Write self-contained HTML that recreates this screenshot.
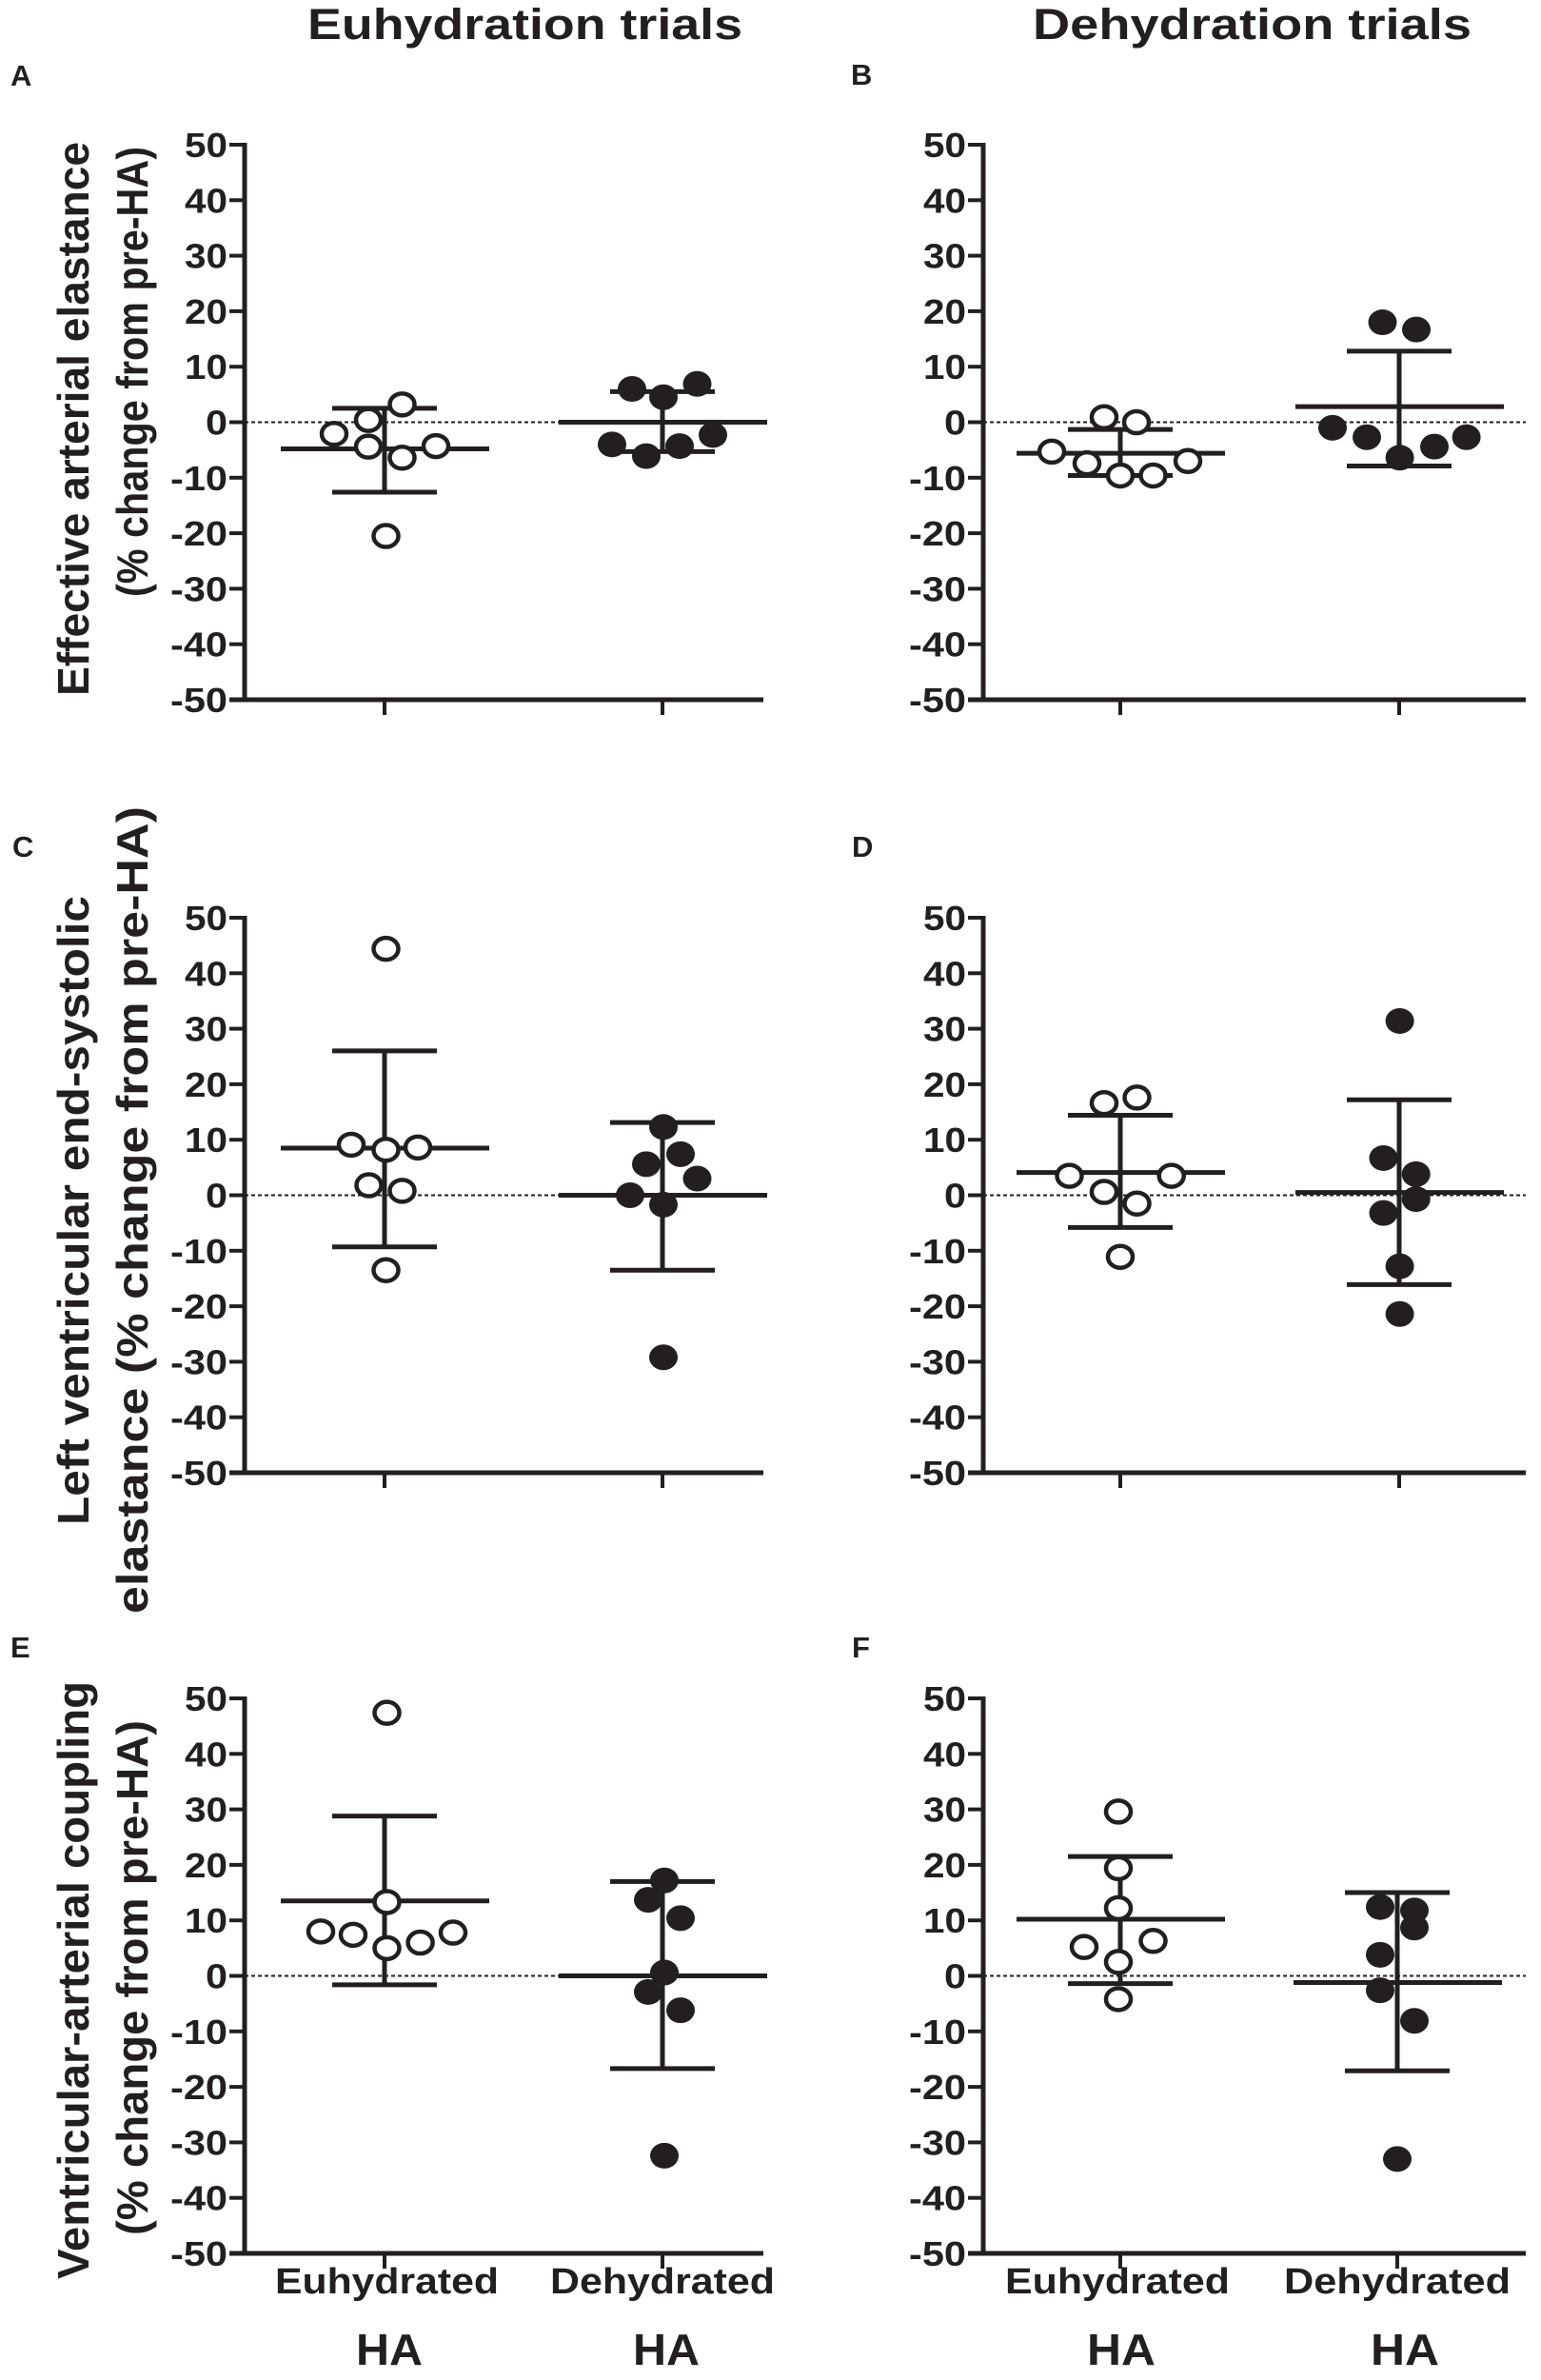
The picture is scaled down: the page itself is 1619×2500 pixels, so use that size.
<!DOCTYPE html>
<html><head><meta charset="utf-8"><style>
html,body{margin:0;padding:0;background:#fff;}
svg{display:block;}
text{font-family:"Liberation Sans",Arial,sans-serif;font-weight:bold;fill:#231f20;}
</style></head><body>
<svg id="s" width="1619" height="2500" viewBox="0 0 1619 2500" xmlns="http://www.w3.org/2000/svg">
<text x="323" y="41" font-size="45" textLength="457" lengthAdjust="spacingAndGlyphs">Euhydration trials</text>
<text x="1085" y="41" font-size="45" textLength="461" lengthAdjust="spacingAndGlyphs">Dehydration trials</text>
<text x="11" y="90" font-size="31">A</text>
<text x="894" y="89" font-size="31">B</text>
<text x="13" y="900" font-size="31">C</text>
<text x="895" y="900" font-size="31">D</text>
<text x="11" y="1741" font-size="31">E</text>
<text x="895" y="1741" font-size="31">F</text>
<g transform="translate(93,731) rotate(-90)"><text x="0" y="0" font-size="46" textLength="582" lengthAdjust="spacingAndGlyphs">Effective arterial elastance</text></g>
<g transform="translate(155,627) rotate(-90)"><text x="0" y="0" font-size="46" textLength="473" lengthAdjust="spacingAndGlyphs">(% change from pre-HA)</text></g>
<g transform="translate(93,1602) rotate(-90)"><text x="0" y="0" font-size="46" textLength="661" lengthAdjust="spacingAndGlyphs">Left ventricular end-systolic</text></g>
<g transform="translate(155,1695) rotate(-90)"><text x="0" y="0" font-size="46" textLength="848" lengthAdjust="spacingAndGlyphs">elastance (% change from pre-HA)</text></g>
<g transform="translate(93,2394) rotate(-90)"><text x="0" y="0" font-size="46" textLength="628" lengthAdjust="spacingAndGlyphs">Ventricular-arterial coupling</text></g>
<g transform="translate(155,2348) rotate(-90)"><text x="0" y="0" font-size="46" textLength="541" lengthAdjust="spacingAndGlyphs">(% change from pre-HA)</text></g>
<text x="289" y="2409" font-size="38" textLength="235" lengthAdjust="spacingAndGlyphs">Euhydrated</text>
<text x="578" y="2409" font-size="38" textLength="236" lengthAdjust="spacingAndGlyphs">Dehydrated</text>
<text x="1056" y="2409" font-size="38" textLength="236" lengthAdjust="spacingAndGlyphs">Euhydrated</text>
<text x="1349" y="2409" font-size="38" textLength="238" lengthAdjust="spacingAndGlyphs">Dehydrated</text>
<text x="374" y="2484" font-size="46" textLength="70" lengthAdjust="spacingAndGlyphs">HA</text>
<text x="665" y="2484" font-size="46" textLength="70" lengthAdjust="spacingAndGlyphs">HA</text>
<text x="1142" y="2484" font-size="46" textLength="72" lengthAdjust="spacingAndGlyphs">HA</text>
<text x="1440" y="2484" font-size="46" textLength="72" lengthAdjust="spacingAndGlyphs">HA</text>
<g id="ticks"></g>
<g id="plot"></g>
</svg>
<script>
var NS="http://www.w3.org/2000/svg",P=document.getElementById('plot'),T=document.getElementById('ticks');
function el(n,a,p){var e=document.createElementNS(NS,n);for(var k in a)e.setAttribute(k,a[k]);(p||P).appendChild(e);return e;}
var K=5.83;
var panels=[
{ax:257,end:802,top:152,c:[404,696],g:[
 {m:-4.8,u:2.5,l:-12.6,o:1,p:[[351,-2.1],[387,0.4],[387,-4.4],[422.5,3.2],[422.5,-6.4],[458,-4.3],[405.5,-20.5]]},
 {m:0,u:5.5,l:-5.3,o:0,p:[[664,6.0],[697,4.5],[732.5,6.9],[643,-4.0],[679,-6.1],[714,-4.3],[749,-2.3]]}]},
{ax:1033,end:1603,top:152,c:[1177,1470],g:[
 {m:-5.6,u:-1.3,l:-9.6,o:1,p:[[1105,-5.3],[1142,-7.4],[1160,0.9],[1194,0],[1177,-9.6],[1211.5,-9.6],[1248,-7.0]]},
 {m:2.8,u:12.8,l:-7.9,o:0,p:[[1452.5,18.0],[1488,16.7],[1400,-1.0],[1436,-2.7],[1470.6,-6.4],[1507,-4.4],[1540.6,-2.7]]}]},
{ax:257,end:802,top:964,c:[404,696],g:[
 {m:8.5,u:26.0,l:-9.3,o:1,p:[[369,9.1],[405.5,8.2],[439,8.6],[387.5,1.8],[422.5,0.8],[405.5,44.4],[405.5,-13.5]]},
 {m:0,u:13.1,l:-13.5,o:0,p:[[697,12.3],[679,5.6],[715,7.4],[732.5,3.0],[662,0],[697,-1.7],[697,-29.2]]}]},
{ax:1033,end:1603,top:964,c:[1177,1470],g:[
 {m:4.1,u:14.4,l:-5.8,o:1,p:[[1160,16.6],[1194.5,17.6],[1123.5,3.5],[1230.7,3.5],[1160,0.6],[1194.5,-1.5],[1177,-11.1]]},
 {m:0.5,u:17.2,l:-16.1,o:0,p:[[1470.6,31.4],[1453.5,6.7],[1487.7,3.8],[1487.7,-0.7],[1453.5,-3.2],[1470.6,-12.8],[1470.6,-21.4]]}]},
{ax:257,end:802,top:1784,c:[404,696],g:[
 {m:13.5,u:28.8,l:-1.6,o:1,p:[[406.5,47.4],[406.5,13.3],[337,8.0],[371,7.4],[406.5,5.0],[441.6,6.0],[476,7.8]]},
 {m:0,u:17.0,l:-16.7,o:0,p:[[698,17.2],[681,13.7],[715,10.4],[698,0.6],[681,-2.9],[715,-6.2],[698,-32.4]]}]},
{ax:1033,end:1603,top:1784,c:[1177,1468],g:[
 {m:10.2,u:21.5,l:-1.4,o:1,p:[[1175,29.6],[1175,19.4],[1175,12.2],[1139,5.2],[1211.5,6.3],[1175,2.5],[1175,-4.2]]},
 {m:-1.2,u:15.0,l:-17.1,o:0,p:[[1450,12.4],[1486,11.8],[1486,8.7],[1450,3.8],[1450,-2.6],[1486,-8.1],[1468,-33.0]]}]}
];
panels.forEach(function(pn){
 var z=pn.top+50*K,bot=pn.top+100*K,ax=pn.ax;
 function Y(v){return z-v*K;}
 el('line',{x1:ax,y1:z,x2:pn.end,y2:z,stroke:'#231f20','stroke-width':2,'stroke-dasharray':'4,3'});
 el('line',{x1:ax,y1:pn.top-2,x2:ax,y2:bot+2.5,stroke:'#231f20','stroke-width':5});
 el('line',{x1:ax-16,y1:bot,x2:pn.end,y2:bot,stroke:'#231f20','stroke-width':5});
 for(var v=50;v>=-50;v-=10){
  var y=Y(v);
  el('line',{x1:ax-16,y1:y,x2:ax,y2:y,stroke:'#231f20','stroke-width':4});
  var tl=v<0?60:(v==0?23:45);
  var t=el('text',{x:ax-18,y:y+13,'font-size':36,'text-anchor':'end',textLength:tl,lengthAdjust:'spacingAndGlyphs'},T);
  t.textContent=String(v);
 }
 pn.c.forEach(function(cx,i){
  el('line',{x1:cx,y1:bot,x2:cx,y2:bot+16,stroke:'#231f20','stroke-width':4});
  var g=pn.g[i];
  el('line',{x1:cx,y1:Y(g.u),x2:cx,y2:Y(g.l),stroke:'#231f20','stroke-width':5});
  el('line',{x1:cx-55,y1:Y(g.u),x2:cx+55,y2:Y(g.u),stroke:'#231f20','stroke-width':5});
  el('line',{x1:cx-55,y1:Y(g.l),x2:cx+55,y2:Y(g.l),stroke:'#231f20','stroke-width':5});
  el('line',{x1:cx-109,y1:Y(g.m),x2:cx+110,y2:Y(g.m),stroke:'#231f20','stroke-width':5});
  g.p.forEach(function(q){
   if(g.o) el('ellipse',{cx:q[0],cy:Y(q[1]),rx:13,ry:11.5,fill:'#fff',stroke:'#231f20','stroke-width':4.5});
   else el('ellipse',{cx:q[0],cy:Y(q[1]),rx:15,ry:13.5,fill:'#231f20'});
  });
 });
});
</script>
</body></html>
